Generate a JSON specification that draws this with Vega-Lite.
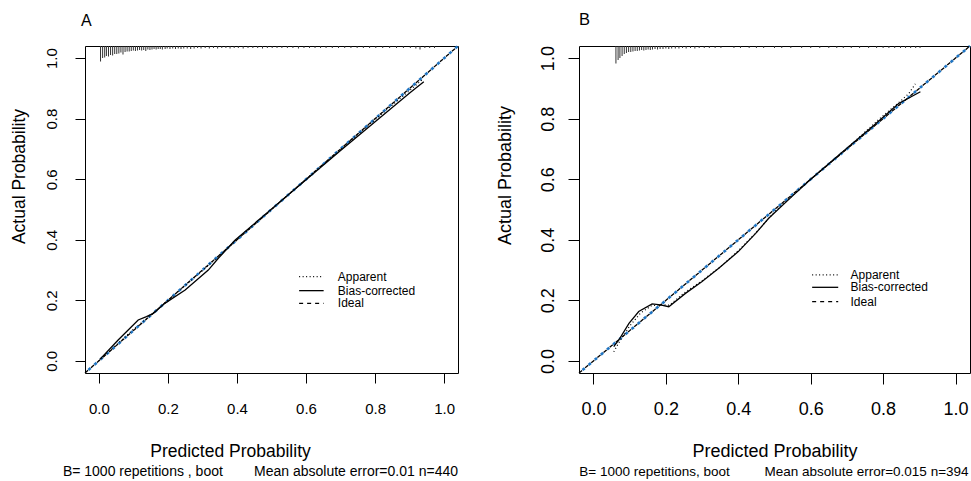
{
  "$schema": "https://vega.github.io/schema/vega-lite/v6.json",
  "background": "white",
  "padding": {"left": 9, "top": 11, "right": 0, "bottom": 0},
  "spacing": 121,
  "bounds": "flush",
  "datasets": {
    "ideal": [{"x": -0.04, "y": -0.04}, {"x": 1.04, "y": 1.04}],
    "appA": [
      {"x": 0.0, "y": 0.0}, {"x": 0.05, "y": 0.052}, {"x": 0.1, "y": 0.104}, {"x": 0.15, "y": 0.15},
      {"x": 0.2, "y": 0.2}, {"x": 0.3, "y": 0.298}, {"x": 0.4, "y": 0.4}, {"x": 0.5, "y": 0.5},
      {"x": 0.6, "y": 0.6}, {"x": 0.7, "y": 0.699}, {"x": 0.8, "y": 0.797}, {"x": 0.9, "y": 0.893}, {"x": 0.94, "y": 0.932}
    ],
    "biasA": [
      {"x": 0.003, "y": 0.005}, {"x": 0.056, "y": 0.069}, {"x": 0.114, "y": 0.135}, {"x": 0.138, "y": 0.146},
      {"x": 0.158, "y": 0.157}, {"x": 0.191, "y": 0.19}, {"x": 0.25, "y": 0.234}, {"x": 0.317, "y": 0.3},
      {"x": 0.346, "y": 0.339}, {"x": 0.395, "y": 0.399}, {"x": 0.491, "y": 0.493}, {"x": 0.6, "y": 0.598},
      {"x": 0.7, "y": 0.695}, {"x": 0.8, "y": 0.79}, {"x": 0.9, "y": 0.885}, {"x": 0.941, "y": 0.922}
    ],
    "appB": [
      {"x": 0.056, "y": 0.03}, {"x": 0.07, "y": 0.06}, {"x": 0.1, "y": 0.115}, {"x": 0.13, "y": 0.158},
      {"x": 0.16, "y": 0.182}, {"x": 0.19, "y": 0.186}, {"x": 0.21, "y": 0.184}, {"x": 0.25, "y": 0.224},
      {"x": 0.3, "y": 0.265}, {"x": 0.35, "y": 0.31}, {"x": 0.4, "y": 0.364}, {"x": 0.45, "y": 0.425},
      {"x": 0.5, "y": 0.492}, {"x": 0.6, "y": 0.6}, {"x": 0.7, "y": 0.702}, {"x": 0.8, "y": 0.81},
      {"x": 0.85, "y": 0.86}, {"x": 0.871, "y": 0.883}, {"x": 0.889, "y": 0.915}
    ],
    "biasB": [
      {"x": 0.056, "y": 0.047}, {"x": 0.07, "y": 0.069}, {"x": 0.098, "y": 0.124}, {"x": 0.125, "y": 0.163},
      {"x": 0.162, "y": 0.188}, {"x": 0.185, "y": 0.185}, {"x": 0.208, "y": 0.179}, {"x": 0.254, "y": 0.223},
      {"x": 0.3, "y": 0.262}, {"x": 0.346, "y": 0.306}, {"x": 0.4, "y": 0.361}, {"x": 0.448, "y": 0.421},
      {"x": 0.484, "y": 0.471}, {"x": 0.55, "y": 0.545}, {"x": 0.6, "y": 0.6}, {"x": 0.678, "y": 0.68},
      {"x": 0.77, "y": 0.773}, {"x": 0.843, "y": 0.85}, {"x": 0.903, "y": 0.889}
    ],
    "rugA": [
      {"x": 0.005, "freq": 15.5}, {"x": 0.011, "freq": 12}, {"x": 0.017, "freq": 11.5}, {"x": 0.022, "freq": 10},
      {"x": 0.028, "freq": 10.5}, {"x": 0.034, "freq": 9}, {"x": 0.04, "freq": 9.5}, {"x": 0.046, "freq": 8},
      {"x": 0.052, "freq": 8}, {"x": 0.058, "freq": 7.5}, {"x": 0.064, "freq": 6.5}, {"x": 0.07, "freq": 8.5},
      {"x": 0.076, "freq": 6}, {"x": 0.082, "freq": 5.5}, {"x": 0.088, "freq": 5.5}, {"x": 0.094, "freq": 5},
      {"x": 0.1, "freq": 4.5}, {"x": 0.106, "freq": 5}, {"x": 0.112, "freq": 4.5}, {"x": 0.118, "freq": 4},
      {"x": 0.124, "freq": 4.5}, {"x": 0.13, "freq": 4}, {"x": 0.136, "freq": 5}, {"x": 0.142, "freq": 3.5},
      {"x": 0.148, "freq": 4}, {"x": 0.154, "freq": 3.5}, {"x": 0.16, "freq": 3}, {"x": 0.166, "freq": 3.5},
      {"x": 0.172, "freq": 3}, {"x": 0.178, "freq": 3}, {"x": 0.184, "freq": 3.5}, {"x": 0.192, "freq": 3},
      {"x": 0.198, "freq": 2.5}, {"x": 0.206, "freq": 3}, {"x": 0.214, "freq": 2.5}, {"x": 0.222, "freq": 3},
      {"x": 0.23, "freq": 2.5}, {"x": 0.238, "freq": 3}, {"x": 0.246, "freq": 2.5}, {"x": 0.256, "freq": 2.5},
      {"x": 0.266, "freq": 3}, {"x": 0.276, "freq": 2.5}, {"x": 0.286, "freq": 2}, {"x": 0.296, "freq": 2.5},
      {"x": 0.308, "freq": 2}, {"x": 0.32, "freq": 2.5}, {"x": 0.332, "freq": 2}, {"x": 0.344, "freq": 2.5},
      {"x": 0.356, "freq": 2}, {"x": 0.368, "freq": 2}, {"x": 0.38, "freq": 2.5}, {"x": 0.392, "freq": 2},
      {"x": 0.404, "freq": 2}, {"x": 0.418, "freq": 2.5}, {"x": 0.432, "freq": 2}, {"x": 0.446, "freq": 2},
      {"x": 0.46, "freq": 2}, {"x": 0.474, "freq": 2.5}, {"x": 0.488, "freq": 2}, {"x": 0.502, "freq": 2},
      {"x": 0.516, "freq": 2}, {"x": 0.53, "freq": 2}, {"x": 0.546, "freq": 2}, {"x": 0.562, "freq": 2},
      {"x": 0.578, "freq": 2.5}, {"x": 0.594, "freq": 2}, {"x": 0.61, "freq": 2}, {"x": 0.626, "freq": 2},
      {"x": 0.642, "freq": 2}, {"x": 0.658, "freq": 2}, {"x": 0.676, "freq": 2}, {"x": 0.694, "freq": 2},
      {"x": 0.712, "freq": 2}, {"x": 0.73, "freq": 2}, {"x": 0.748, "freq": 2}, {"x": 0.766, "freq": 2},
      {"x": 0.784, "freq": 2}, {"x": 0.802, "freq": 2}, {"x": 0.822, "freq": 2}, {"x": 0.842, "freq": 2},
      {"x": 0.862, "freq": 2}, {"x": 0.882, "freq": 2}, {"x": 0.902, "freq": 2}, {"x": 0.918, "freq": 2.5},
      {"x": 0.93, "freq": 3.5}, {"x": 0.944, "freq": 2}, {"x": 0.958, "freq": 2}, {"x": 0.972, "freq": 2}
    ],
    "rugB": [
      {"x": 0.062, "freq": 17.5}, {"x": 0.068, "freq": 14}, {"x": 0.073, "freq": 12}, {"x": 0.079, "freq": 10},
      {"x": 0.085, "freq": 8}, {"x": 0.091, "freq": 7}, {"x": 0.097, "freq": 6}, {"x": 0.103, "freq": 6},
      {"x": 0.109, "freq": 5.5}, {"x": 0.115, "freq": 5}, {"x": 0.121, "freq": 5}, {"x": 0.127, "freq": 4.5},
      {"x": 0.133, "freq": 4}, {"x": 0.139, "freq": 4.5}, {"x": 0.145, "freq": 4}, {"x": 0.151, "freq": 3.5},
      {"x": 0.157, "freq": 4}, {"x": 0.163, "freq": 3.5}, {"x": 0.17, "freq": 3}, {"x": 0.177, "freq": 3.5},
      {"x": 0.184, "freq": 3}, {"x": 0.192, "freq": 3}, {"x": 0.2, "freq": 2.5}, {"x": 0.208, "freq": 3},
      {"x": 0.216, "freq": 2.5}, {"x": 0.226, "freq": 2.5}, {"x": 0.236, "freq": 2.5}, {"x": 0.246, "freq": 2},
      {"x": 0.256, "freq": 2.5}, {"x": 0.268, "freq": 2}, {"x": 0.28, "freq": 2.5}, {"x": 0.292, "freq": 2},
      {"x": 0.306, "freq": 2}, {"x": 0.32, "freq": 2}, {"x": 0.336, "freq": 2}, {"x": 0.352, "freq": 2},
      {"x": 0.388, "freq": 2}, {"x": 0.406, "freq": 2}, {"x": 0.43, "freq": 2}, {"x": 0.45, "freq": 2},
      {"x": 0.47, "freq": 2}, {"x": 0.5, "freq": 2}, {"x": 0.52, "freq": 2}, {"x": 0.545, "freq": 2},
      {"x": 0.575, "freq": 2}, {"x": 0.6, "freq": 2}, {"x": 0.625, "freq": 2}, {"x": 0.65, "freq": 2},
      {"x": 0.672, "freq": 2}, {"x": 0.69, "freq": 2}, {"x": 0.712, "freq": 2}, {"x": 0.735, "freq": 2},
      {"x": 0.76, "freq": 2}, {"x": 0.782, "freq": 2}, {"x": 0.8, "freq": 2}, {"x": 0.816, "freq": 2},
      {"x": 0.832, "freq": 2}, {"x": 0.848, "freq": 2}, {"x": 0.862, "freq": 2}, {"x": 0.876, "freq": 2},
      {"x": 0.89, "freq": 2}, {"x": 0.902, "freq": 2}
    ]
  },
  "hconcat": [
    {
      "width": 373,
      "height": 327,
      "title": {"text": "A", "fontSize": 16, "anchor": "start", "frame": "group", "offset": 12, "dx": -4},
      "resolve": {"scale": {"y": "independent"}},
      "layer": [
        {
          "layer": [
            {
              "data": {"name": "ideal"},
              "mark": {"type": "line", "color": "black", "strokeWidth": 1.3, "strokeDash": [4, 4]},
              "encoding": {
                "x": {"field": "x", "type": "quantitative", "scale": {"domain": [-0.04, 1.04], "nice": false, "zero": false},
                  "axis": {"values": [0, 0.2, 0.4, 0.6, 0.8, 1], "format": ".1f", "tickSize": 10, "labelFontSize": 15, "labelPadding": 18,
                    "labelFlush": false, "labelOverlap": false, "title": "Predicted Probability", "titleFontSize": 17.5,
                    "titleX": 145, "titleY": 83, "titleBaseline": "alphabetic", "titleAlign": "center"}},
                "y": {"field": "y", "type": "quantitative", "scale": {"domain": [-0.04, 1.04], "nice": false, "zero": false},
                  "axis": {"values": [0, 0.2, 0.4, 0.6, 0.8, 1], "format": ".1f", "tickSize": 10, "labelFontSize": 15, "labelAngle": -90,
                    "labelAlign": "center", "labelBaseline": "alphabetic", "labelPadding": 19, "labelFlush": false, "labelOverlap": false,
                    "title": "Actual Probability", "titleFontSize": 17.5, "titleAngle": -90, "titleX": -66, "titleY": 130,
                    "titleBaseline": "middle", "titleAlign": "center"}}
              }
            },
            {
              "data": {"name": "ideal"},
              "mark": {"type": "line", "color": "#1f74c2", "strokeWidth": 2.6, "strokeDash": [3, 5], "strokeDashOffset": 3.5},
              "encoding": {"x": {"field": "x", "type": "quantitative"}, "y": {"field": "y", "type": "quantitative"}}
            },
            {
              "data": {"name": "appA"},
              "mark": {"type": "line", "color": "black", "strokeWidth": 1.2, "strokeDash": [1, 2.5]},
              "encoding": {"x": {"field": "x", "type": "quantitative"}, "y": {"field": "y", "type": "quantitative"}}
            },
            {
              "data": {"name": "biasA"},
              "mark": {"type": "line", "color": "black", "strokeWidth": 1.3},
              "encoding": {"x": {"field": "x", "type": "quantitative"}, "y": {"field": "y", "type": "quantitative"}}
            },
            {
              "data": {"values": [{"label": "Apparent"}]},
              "layer": [
                {"mark": {"type": "rule", "color": "black", "strokeWidth": 1.2, "strokeDash": [1, 2.5]},
                 "encoding": {"x": {"datum": 0.58}, "x2": {"datum": 0.651}, "y": {"datum": 0.278}}},
                {"mark": {"type": "text", "align": "left", "baseline": "middle", "fontSize": 12, "font": "Liberation Sans"},
                 "encoding": {"x": {"datum": 0.692}, "y": {"datum": 0.278}, "text": {"field": "label"}}}
              ]
            },
            {
              "data": {"values": [{"label": "Bias-corrected"}]},
              "layer": [
                {"mark": {"type": "rule", "color": "black", "strokeWidth": 1.3},
                 "encoding": {"x": {"datum": 0.58}, "x2": {"datum": 0.651}, "y": {"datum": 0.232}}},
                {"mark": {"type": "text", "align": "left", "baseline": "middle", "fontSize": 12, "font": "Liberation Sans"},
                 "encoding": {"x": {"datum": 0.692}, "y": {"datum": 0.232}, "text": {"field": "label"}}}
              ]
            },
            {
              "data": {"values": [{"label": "Ideal"}]},
              "layer": [
                {"mark": {"type": "rule", "color": "black", "strokeWidth": 1.2, "strokeDash": [4, 4]},
                 "encoding": {"x": {"datum": 0.58}, "x2": {"datum": 0.651}, "y": {"datum": 0.19}}},
                {"mark": {"type": "text", "align": "left", "baseline": "middle", "fontSize": 12, "font": "Liberation Sans"},
                 "encoding": {"x": {"datum": 0.692}, "y": {"datum": 0.19}, "text": {"field": "label"}}}
              ]
            },
            {
              "data": {"values": [{"left": "B= 1000 repetitions , boot", "right": "Mean absolute error=0.01 n=440"}]},
              "layer": [
                {"mark": {"type": "text", "align": "left", "baseline": "middle", "fontSize": 14, "font": "Liberation Sans"},
                 "encoding": {"x": {"datum": -0.104}, "y": {"datum": -0.368}, "text": {"field": "left"}}},
                {"mark": {"type": "text", "align": "right", "baseline": "middle", "fontSize": 14, "font": "Liberation Sans"},
                 "encoding": {"x": {"datum": 1.04}, "y": {"datum": -0.368}, "text": {"field": "right"}}}
              ]
            }
          ]
        },
        {
          "data": {"name": "rugA"},
          "mark": {"type": "rule", "color": "#333333", "strokeWidth": 1},
          "encoding": {
            "x": {"field": "x", "type": "quantitative", "scale": {"domain": [-0.04, 1.04], "nice": false, "zero": false}},
            "y": {"field": "freq", "type": "quantitative", "scale": {"domain": [0, 16], "range": [0, 16], "nice": false, "zero": false}, "axis": null},
            "y2": {"datum": 0}
          }
        }
      ]
    },
    {
      "width": 391,
      "height": 327,
      "title": {"text": "B", "fontSize": 16.5, "anchor": "start", "frame": "group", "offset": 12, "dx": 0},
      "resolve": {"scale": {"y": "independent"}},
      "layer": [
        {
          "layer": [
            {
              "data": {"name": "ideal"},
              "mark": {"type": "line", "color": "black", "strokeWidth": 1.3, "strokeDash": [4, 4]},
              "encoding": {
                "x": {"field": "x", "type": "quantitative", "scale": {"domain": [-0.04, 1.04], "nice": false, "zero": false},
                  "axis": {"values": [0, 0.2, 0.4, 0.6, 0.8, 1], "format": ".1f", "tickSize": 11, "labelFontSize": 18, "labelPadding": 16,
                    "labelFlush": false, "labelOverlap": false, "title": "Predicted Probability", "titleFontSize": 18,
                    "titleX": 195.5, "titleY": 83, "titleBaseline": "alphabetic", "titleAlign": "center"}},
                "y": {"field": "y", "type": "quantitative", "scale": {"domain": [-0.04, 1.04], "nice": false, "zero": false},
                  "axis": {"values": [0, 0.2, 0.4, 0.6, 0.8, 1], "format": ".1f", "tickSize": 11, "labelFontSize": 18, "labelAngle": -90,
                    "labelAlign": "center", "labelBaseline": "alphabetic", "labelPadding": 15, "labelFlush": false, "labelOverlap": false,
                    "title": "Actual Probability", "titleFontSize": 18, "titleAngle": -90, "titleX": -74, "titleY": 129,
                    "titleBaseline": "middle", "titleAlign": "center"}}
              }
            },
            {
              "data": {"name": "ideal"},
              "mark": {"type": "line", "color": "#1f74c2", "strokeWidth": 2.6, "strokeDash": [3, 5], "strokeDashOffset": 3.5},
              "encoding": {"x": {"field": "x", "type": "quantitative"}, "y": {"field": "y", "type": "quantitative"}}
            },
            {
              "data": {"name": "appB"},
              "mark": {"type": "line", "color": "black", "strokeWidth": 1.2, "strokeDash": [1, 2.5]},
              "encoding": {"x": {"field": "x", "type": "quantitative"}, "y": {"field": "y", "type": "quantitative"}}
            },
            {
              "data": {"name": "biasB"},
              "mark": {"type": "line", "color": "black", "strokeWidth": 1.3},
              "encoding": {"x": {"field": "x", "type": "quantitative"}, "y": {"field": "y", "type": "quantitative"}}
            },
            {
              "data": {"values": [{"label": "Apparent"}]},
              "layer": [
                {"mark": {"type": "rule", "color": "black", "strokeWidth": 1.2, "strokeDash": [1, 2.5]},
                 "encoding": {"x": {"datum": 0.604}, "x2": {"datum": 0.676}, "y": {"datum": 0.284}}},
                {"mark": {"type": "text", "align": "left", "baseline": "middle", "fontSize": 12, "font": "Liberation Sans"},
                 "encoding": {"x": {"datum": 0.71}, "y": {"datum": 0.284}, "text": {"field": "label"}}}
              ]
            },
            {
              "data": {"values": [{"label": "Bias-corrected"}]},
              "layer": [
                {"mark": {"type": "rule", "color": "black", "strokeWidth": 1.3},
                 "encoding": {"x": {"datum": 0.604}, "x2": {"datum": 0.676}, "y": {"datum": 0.243}}},
                {"mark": {"type": "text", "align": "left", "baseline": "middle", "fontSize": 12, "font": "Liberation Sans"},
                 "encoding": {"x": {"datum": 0.71}, "y": {"datum": 0.243}, "text": {"field": "label"}}}
              ]
            },
            {
              "data": {"values": [{"label": "Ideal"}]},
              "layer": [
                {"mark": {"type": "rule", "color": "black", "strokeWidth": 1.2, "strokeDash": [4, 4]},
                 "encoding": {"x": {"datum": 0.604}, "x2": {"datum": 0.676}, "y": {"datum": 0.196}}},
                {"mark": {"type": "text", "align": "left", "baseline": "middle", "fontSize": 12, "font": "Liberation Sans"},
                 "encoding": {"x": {"datum": 0.71}, "y": {"datum": 0.196}, "text": {"field": "label"}}}
              ]
            },
            {
              "data": {"values": [{"left": "B= 1000 repetitions, boot", "right": "Mean absolute error=0.015 n=394"}]},
              "layer": [
                {"mark": {"type": "text", "align": "left", "baseline": "middle", "fontSize": 13.5, "font": "Liberation Sans"},
                 "encoding": {"x": {"datum": -0.039}, "y": {"datum": -0.368}, "text": {"field": "left"}}},
                {"mark": {"type": "text", "align": "right", "baseline": "middle", "fontSize": 13.5, "font": "Liberation Sans"},
                 "encoding": {"x": {"datum": 1.036}, "y": {"datum": -0.368}, "text": {"field": "right"}}}
              ]
            }
          ]
        },
        {
          "data": {"name": "rugB"},
          "mark": {"type": "rule", "color": "#333333", "strokeWidth": 1},
          "encoding": {
            "x": {"field": "x", "type": "quantitative", "scale": {"domain": [-0.04, 1.04], "nice": false, "zero": false}},
            "y": {"field": "freq", "type": "quantitative", "scale": {"domain": [0, 16], "range": [0, 16], "nice": false, "zero": false}, "axis": null},
            "y2": {"datum": 0}
          }
        }
      ]
    }
  ],
  "config": {
    "font": "Liberation Sans",
    "view": {"stroke": "black", "strokeWidth": 1},
    "axis": {"grid": false, "domain": false, "ticks": true, "tickColor": "black", "tickWidth": 1, "labelColor": "black",
      "titleColor": "black", "titleFontWeight": "normal", "labelFont": "Liberation Sans", "titleFont": "Liberation Sans"},
    "title": {"fontWeight": "normal", "color": "black", "font": "Liberation Sans"}
  }
}
